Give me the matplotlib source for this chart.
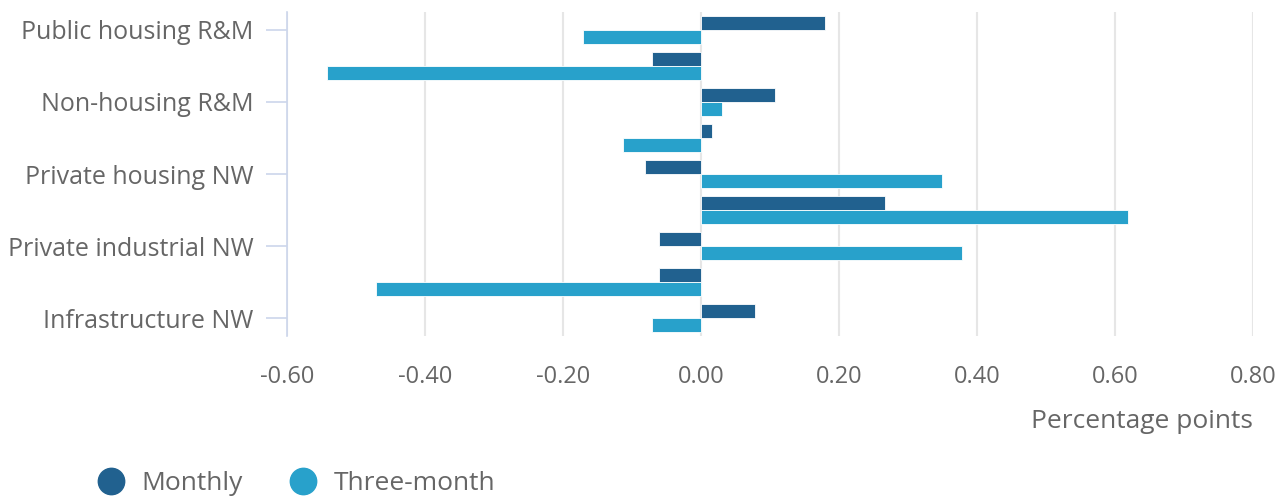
import matplotlib
matplotlib.use("Agg")
import matplotlib.pyplot as plt
from matplotlib.lines import Line2D
import numpy as np

plt.rcParams['font.family'] = ['Open Sans', 'DejaVu Sans']

categories = ["Public housing R&M", "Private housing R&M", "Non-housing R&M",
              "Public housing NW", "Private housing NW", "Private commercial NW",
              "Private industrial NW", "Public non-housing NW", "Infrastructure NW"]
monthly = [0.180, -0.071, 0.107, 0.016, -0.081, 0.267, -0.061, -0.061, 0.078]
three_month = [-0.171, -0.542, 0.030, -0.113, 0.349, 0.619, 0.378, -0.471, -0.071]
xticks = [-0.60, -0.40, -0.20, 0.00, 0.20, 0.40, 0.60, 0.80]

c_month = "#21618f"
c_three = "#28a1cb"
txt = "#666666"

fig = plt.figure(figsize=(12.86, 4.97), dpi=100)
ax = fig.add_axes([287/1286, 161/497, 966/1286, 324/497])

y = np.arange(len(categories))
h = 0.40
ax.barh(y - h/2, monthly, height=h, color=c_month, edgecolor="white", linewidth=0.6, zorder=3)
ax.barh(y + h/2, three_month, height=h, color=c_three, edgecolor="white", linewidth=0.6, zorder=3)

for s in ["top", "right", "bottom"]:
    ax.spines[s].set_visible(False)
ax.spines["left"].set_color("#ccd6eb")
ax.spines["left"].set_linewidth(1.2)

ax.set_ylim(len(categories) - 0.5, -0.5)
ax.set_xlim(-0.60, 0.80)
ax.set_xticks(xticks)
ax.set_xticklabels([f"{v:.2f}" for v in xticks])
ax.set_yticks(y[::2])
ax.set_yticklabels(categories[::2])

ax.tick_params(axis='x', length=0, pad=21, labelsize=17, labelcolor=txt)
ax.tick_params(axis='y', length=15, color="#ccd6eb", width=1.2, pad=9,
               labelsize=18, labelcolor=txt)

ax.grid(axis='x', color="#e6e6e6", linewidth=1.5, zorder=0)
ax.grid(axis='y', visible=False)

fig.text(1253/1286, 1 - 421/497, "Percentage points", ha="right", va="center",
         color=txt, fontsize=19)

handles = [Line2D([], [], marker='o', linestyle='none', markersize=19, color=c_month),
           Line2D([], [], marker='o', linestyle='none', markersize=19, color=c_three)]
fig.legend(handles, ["Monthly", "Three-month"], loc="center left",
           bbox_to_anchor=(74/1286, 1 - 484/497), ncol=2, frameon=False,
           fontsize=19, labelcolor=txt, handletextpad=0.65, columnspacing=1.8,
           handlelength=1.0)

fig.savefig("out.png", dpi=100)
